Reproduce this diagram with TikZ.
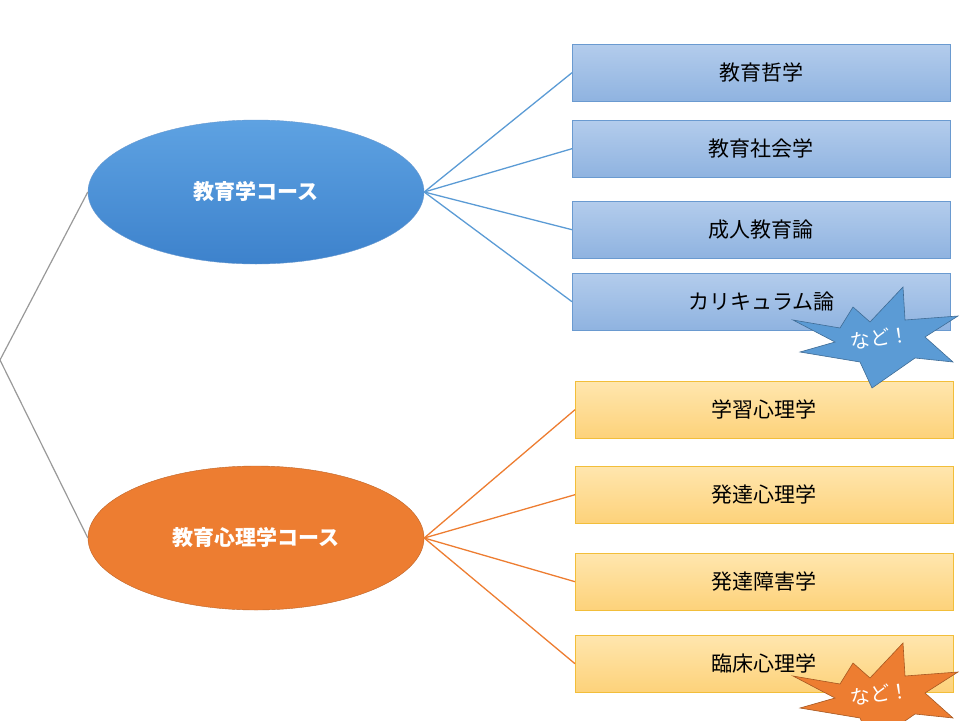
\documentclass[tikz,border=0pt]{standalone}
\usepackage{fontspec}
\usetikzlibrary{shapes.geometric}
\setmainfont{Noto Sans CJK JP}
\begin{document}
\begin{tikzpicture}[x=1pt,y=-1pt,
  bbox/.style={minimum width=378pt, minimum height=57pt, anchor=north west, font=\fontsize{21}{24}\selectfont, inner sep=0pt},
  bluebox/.style={bbox, top color=bluetop, bottom color=bluebot, draw=blueedge},
  orbox/.style={bbox, top color=ortop, bottom color=orbot, draw=oredge},
  ell/.style={ellipse, minimum width=336pt, minimum height=144pt, inner sep=0pt, text=white, font=\bfseries\fontsize{21}{24}\selectfont, draw=#1},
  bl/.style={draw=blueline, line width=1.3pt},
  ol/.style={draw=orline, line width=1.3pt}]
\definecolor{bluetop}{HTML}{B3CCEC}
\definecolor{bluebot}{HTML}{8FB3E0}
\definecolor{blueedge}{HTML}{6A9AD0}
\definecolor{ortop}{HTML}{FFE6AE}
\definecolor{orbot}{HTML}{FDD27A}
\definecolor{oredge}{HTML}{F2BE3A}
\definecolor{blueline}{HTML}{5B9BD5}
\definecolor{orline}{HTML}{ED7D31}
\definecolor{elltop}{HTML}{5EA2E2}
\definecolor{ellbot}{HTML}{3D82CC}
\useasboundingbox (0,0) rectangle (960,720);
\node[ell=blueedge, top color=elltop, bottom color=ellbot] (e1) at (256,192) {教育学コース};
\node[ell=orline!80!black, fill=orline] (e2) at (256,538) {教育心理学コース};
\coordinate (root) at (0,360);
\draw[gray!80, line width=1.2pt] (e1.west) -- (root) -- (e2.west);
\node[bluebox] (b1) at (572,44) {教育哲学};
\node[bluebox] (b2) at (572,120) {教育社会学};
\node[bluebox] (b3) at (572,201) {成人教育論};
\node[bluebox] (b4) at (572,273) {カリキュラム論};
\node[orbox] (o1) at (575,381) {学習心理学};
\node[orbox] (o2) at (575,466) {発達心理学};
\node[orbox] (o3) at (575,553) {発達障害学};
\node[orbox] (o4) at (575,635) {臨床心理学};
\foreach \b in {b1,b2,b3,b4} \draw[bl] (e1.east) -- (\b.west);
\foreach \b in {o1,o2,o3,o4} \draw[ol] (e2.east) -- (\b.west);
\foreach \dy/\c/\n in {0/blueline/s1,356/orline/s2}{
  \begin{scope}[yshift=-\dy]
  \fill[\c, draw=\c!70!black, line width=0.6pt] (793,320) -- (840,328) -- (853,307) -- (870,322) -- (903,287) -- (905,320) -- (958,316) -- (925,337) -- (953,362) -- (915,358) -- (872,388) -- (860,362) -- (800,352) -- (835,342) -- cycle;
  \node[text=white, rotate=8, font=\fontsize{20}{22}\selectfont] (\n) at (880,338) {など！};
  \end{scope}}
\end{tikzpicture}
\end{document}
